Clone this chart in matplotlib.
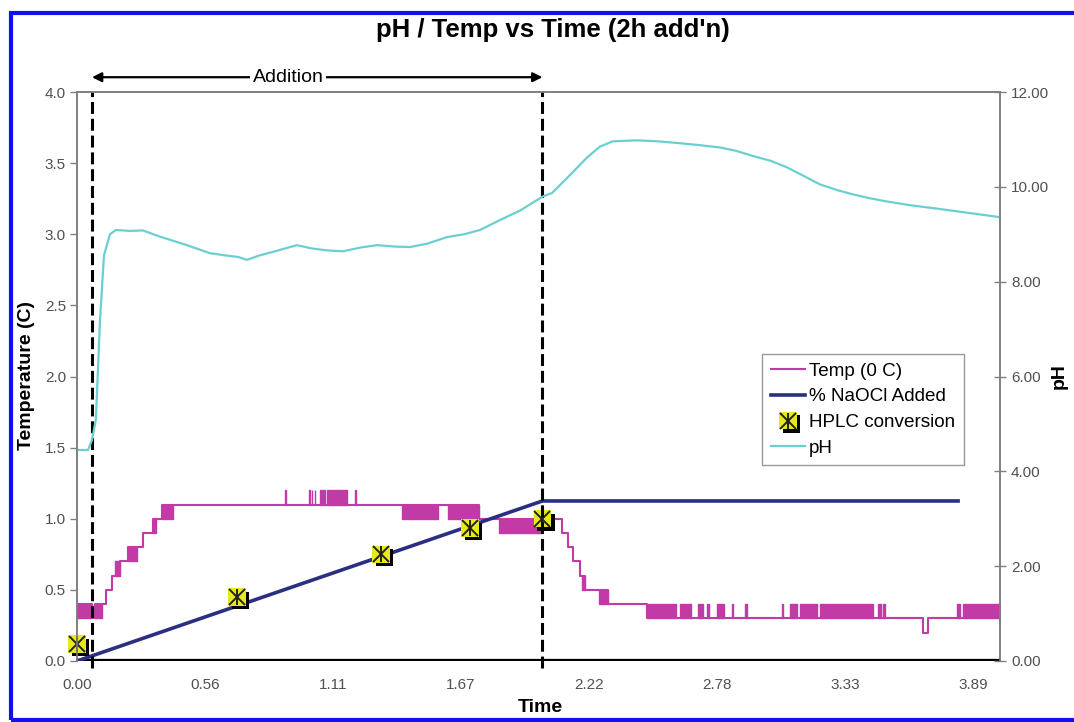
import matplotlib
matplotlib.use("Agg")
import matplotlib.pyplot as plt
import matplotlib.patheffects as pe
from matplotlib.patches import Rectangle

plt.rcParams['font.family'] = ['Liberation Sans', 'DejaVu Sans']

# --- data (time in hours) ---
x_ticks = [0.0, 0.556, 1.111, 1.667, 2.222, 2.778, 3.333, 3.889]
x_ticklabels = ["0.00", "0.56", "1.11", "1.67", "2.22", "2.78", "3.33", "3.89"]

# temperature trace (step values, held until next time)
temp_t = [0.000, 0.065, 0.078, 0.126, 0.150, 0.187, 0.221, 0.286, 0.330, 0.369,
          1.745, 2.105, 2.131, 2.153, 2.183, 2.205, 2.305, 2.475, 3.672, 3.694, 4.006]
temp_v = [0.4, 0.3, 0.4, 0.5, 0.6, 0.7, 0.8, 0.9, 1.0, 1.1,
          1.0, 0.9, 0.8, 0.7, 0.6, 0.5, 0.4, 0.3, 0.2, 0.3, 0.3]

# stretches where the reading flickers between two levels (t0, t1, low, high)
temp_noise = [
    (0.000, 0.065, 0.3, 0.4), (0.078, 0.109, 0.3, 0.4),
    (0.165, 0.187, 0.6, 0.7), (0.221, 0.260, 0.7, 0.8),
    (0.330, 0.345, 0.9, 1.0), (0.369, 0.417, 1.0, 1.1),
    (0.904, 0.908, 1.1, 1.2), (1.009, 1.013, 1.1, 1.2),
    (1.018, 1.022, 1.1, 1.2), (1.031, 1.035, 1.1, 1.2),
    (1.053, 1.057, 1.1, 1.2), (1.064, 1.068, 1.1, 1.2),
    (1.074, 1.078, 1.1, 1.2), (1.085, 1.095, 1.1, 1.2),
    (1.100, 1.172, 1.1, 1.2), (1.205, 1.209, 1.1, 1.2),
    (1.409, 1.568, 1.0, 1.1), (1.610, 1.745, 1.0, 1.1),
    (1.830, 2.020, 0.9, 1.0), (2.190, 2.205, 0.5, 0.6),
    (2.265, 2.305, 0.4, 0.5),
    (2.475, 2.600, 0.3, 0.4), (2.617, 2.648, 0.3, 0.4),
    (2.652, 2.665, 0.3, 0.4), (2.695, 2.717, 0.3, 0.4),
    (2.734, 2.743, 0.3, 0.4), (2.778, 2.808, 0.3, 0.4),
    (2.843, 2.847, 0.3, 0.4), (2.899, 2.908, 0.3, 0.4),
    (3.060, 3.064, 0.3, 0.4), (3.095, 3.125, 0.3, 0.4),
    (3.138, 3.212, 0.3, 0.4), (3.225, 3.455, 0.3, 0.4),
    (3.477, 3.490, 0.3, 0.4), (3.498, 3.507, 0.3, 0.4),
    (3.819, 3.832, 0.3, 0.4), (3.845, 4.006, 0.3, 0.4),
]

naocl_t = [0.0, 2.02, 3.824]
naocl_v = [0.0, 1.125, 1.125]

hplc_t = [0.0, 0.694, 1.32, 1.706, 2.02]
hplc_v = [0.12, 0.45, 0.75, 0.935, 1.0]

ph_t = [0.000, 0.048, 0.065, 0.082, 0.100, 0.117, 0.143, 0.169, 0.230, 0.286, 0.360,
        0.477, 0.577, 0.651, 0.700, 0.738, 0.790, 0.851, 0.955, 1.020, 1.085, 1.155,
        1.230, 1.302, 1.380, 1.445, 1.519, 1.606, 1.680, 1.749, 1.836, 1.923, 2.023,
        2.062, 2.140, 2.214, 2.270, 2.326, 2.431, 2.520, 2.617, 2.700, 2.791, 2.860,
        2.934, 3.010, 3.082, 3.150, 3.225, 3.300, 3.368, 3.440, 3.516, 3.620, 3.733,
        3.870, 4.006]
ph_v = [4.45, 4.45, 4.66, 5.10, 7.20, 8.55, 9.00, 9.09, 9.07, 9.08, 8.95,
        8.77, 8.60, 8.55, 8.52, 8.46, 8.55, 8.63, 8.77, 8.70, 8.66, 8.64,
        8.72, 8.77, 8.74, 8.73, 8.80, 8.94, 9.00, 9.09, 9.30, 9.50, 9.80,
        9.87, 10.25, 10.62, 10.85, 10.96, 10.98, 10.96, 10.92, 10.88, 10.83, 10.76,
        10.65, 10.55, 10.41, 10.24, 10.05, 9.93, 9.84, 9.76, 9.69, 9.61, 9.54,
        9.45, 9.36]

add_start, add_end = 0.065, 2.02

magenta = '#C13AA6'
navy = '#2B2F80'
teal = '#6CCFCF'
gray = '#808080'
tick_gray = '#505050'

fig = plt.figure(figsize=(10.74, 7.22), dpi=100)
ax = fig.add_axes([77 / 1074, 1 - 661 / 722, 923 / 1074, 569 / 722])
ax2 = ax.twinx()

# temperature
l_temp, = ax.plot(temp_t, temp_v, drawstyle='steps-post', color=magenta, lw=1.5, zorder=3)
for t0, t1, lo, hi in temp_noise:
    ax.fill_between([t0, t1], [lo, lo], [hi, hi], color=magenta, lw=1.0,
                    edgecolor=magenta, zorder=3)

ax.axhline(0, color='black', lw=3.8, zorder=4)

l_naocl, = ax.plot(naocl_t, naocl_v, color=navy, lw=2.6, zorder=5)

sq, = ax.plot(hplc_t, hplc_v, ls='none', marker='s', ms=12.5, mfc='#E8E81E',
              mec='none', zorder=6, clip_on=False,
              path_effects=[pe.SimplePatchShadow(offset=(2.5, -2.5), shadow_rgbFace='black', alpha=1),
                            pe.Normal()])
xm, = ax.plot(hplc_t, hplc_v, ls='none', marker='x', ms=11, mec='#222222', mew=1.4,
              zorder=7, clip_on=False)
vm, = ax.plot(hplc_t, hplc_v, ls='none', marker='|', ms=12, mec='#222222', mew=1.4,
              zorder=7, clip_on=False)

for t in (add_start, add_end):
    ax.axvline(t, ymin=-0.012, ymax=1, color='black', lw=2.2, dashes=(3.9, 1.6),
               clip_on=False, zorder=8)

# pH on the secondary axis
l_ph, = ax2.plot(ph_t, ph_v, color=teal, lw=1.6)

ax.set_xlim(0, 4.006)
ax.set_ylim(0, 4.0)
ax2.set_ylim(0, 12)
ax.set_xticks(x_ticks)
ax.set_xticklabels(x_ticklabels)
ax.set_yticks([0, 0.5, 1.0, 1.5, 2.0, 2.5, 3.0, 3.5, 4.0])
ax.set_yticklabels(["%.1f" % v for v in ax.get_yticks()])
ax2.set_yticks([0, 2, 4, 6, 8, 10, 12])
ax2.set_yticklabels(["%.2f" % v for v in ax2.get_yticks()])

ax.tick_params(axis='x', length=0, pad=12, labelsize=11, labelcolor=tick_gray)
ax.tick_params(axis='y', direction='out', length=5, width=1, color=gray, pad=3,
               labelsize=11, labelcolor=tick_gray)
ax2.tick_params(axis='y', direction='inout', length=8, width=1, color=gray, pad=4,
                labelsize=11, labelcolor=tick_gray)

for a in (ax, ax2):
    for s in a.spines.values():
        s.set_color(gray)
        s.set_linewidth(1.2)
    a.spines['bottom'].set_visible(False)
ax2.patch.set_visible(False)

# addition arrow above the plot
ax.annotate('', xy=(add_start, 1.026), xytext=(add_end, 1.026),
            xycoords=('data', 'axes fraction'), textcoords=('data', 'axes fraction'),
            arrowprops=dict(arrowstyle='<|-|>', color='black', lw=1.6,
                            shrinkA=0, shrinkB=0, mutation_scale=14),
            annotation_clip=False)
ax.text(0.916, 1.026, 'Addition', transform=ax.get_xaxis_transform(), ha='center',
        va='center', fontsize=14, bbox=dict(facecolor='white', edgecolor='none', pad=2))

fig.text(553 / 1074, 1 - 30 / 722, "pH / Temp vs Time (2h add'n)", ha='center', va='center',
         fontsize=18.5, fontweight='bold')
fig.text(27 / 1074, 1 - 376 / 722, 'Temperature (C)', rotation=90, ha='center',
         va='center', fontsize=14, fontweight='bold')
fig.text(540 / 1074, 1 - 707 / 722, 'Time', ha='center', va='center', fontsize=14,
         fontweight='bold')
fig.text(1059 / 1074, 1 - 376 / 722, 'pH', rotation=90, ha='center', va='center',
         fontsize=14, fontweight='bold')

leg = ax2.legend([l_temp, l_naocl, (sq, xm, vm), l_ph],
                 ['Temp (0 C)', '% NaOCl Added', 'HPLC conversion', 'pH'],
                 loc='upper left', bbox_to_anchor=(762 / 1074, 1 - 354 / 722),
                 bbox_transform=fig.transFigure, borderaxespad=0, fontsize=13.6,
                 frameon=True, fancybox=False, edgecolor=gray, handlelength=1.85,
                 handletextpad=0.2, labelspacing=0.45, borderpad=0.45)
leg.get_frame().set_linewidth(1.0)

# blue frame around the pasted chart
fig.patches.append(Rectangle((11 / 1074, 2 / 722), 1.0, 707 / 722, transform=fig.transFigure,
                             fill=False, edgecolor='#1010F0', lw=3.0, zorder=10))

fig.savefig('out.png', dpi=100)
